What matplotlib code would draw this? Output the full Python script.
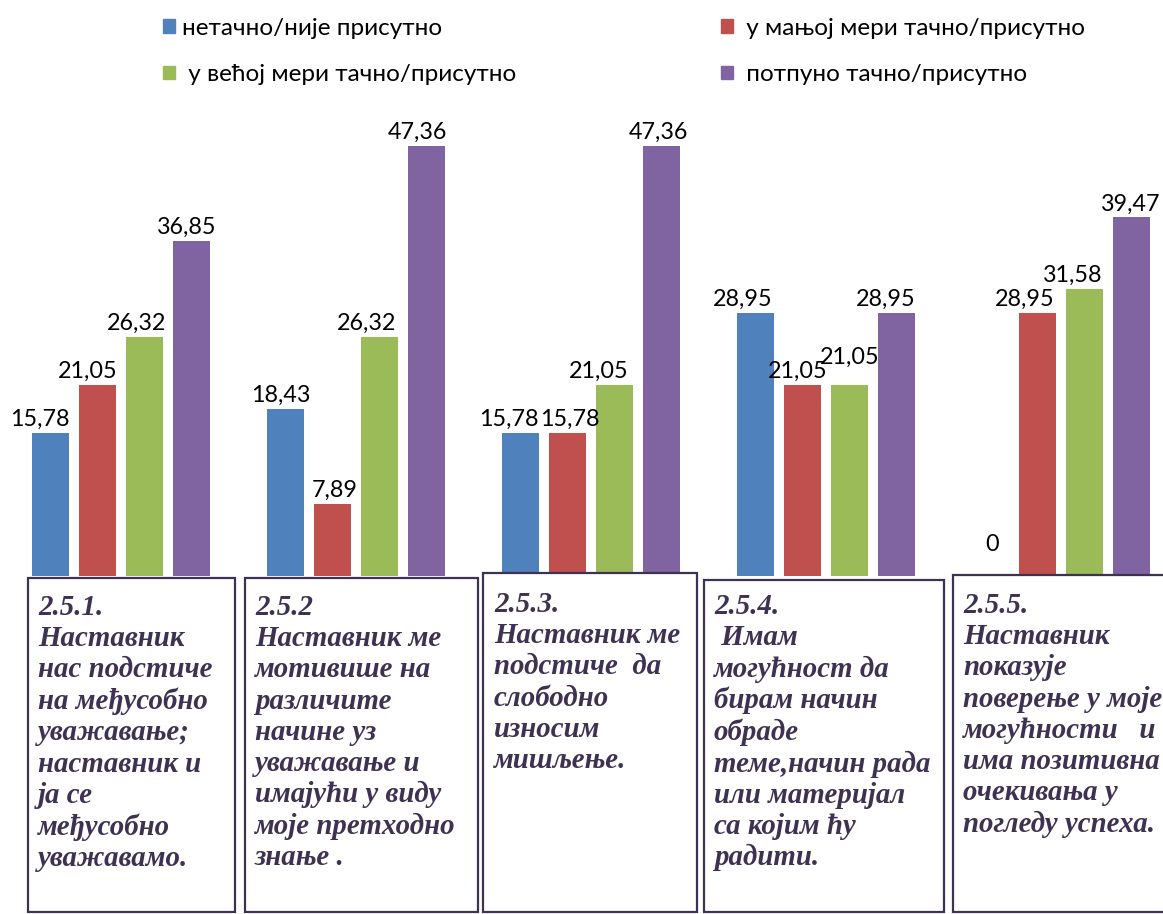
import matplotlib.pyplot as plt
from matplotlib.patches import Rectangle, Patch

# categories (statements) and answer series
groups = ["2.5.1.", "2.5.2", "2.5.3.", "2.5.4.", "2.5.5."]
series_names = ["нетачно/није присутно", " у мањој мери тачно/присутно",
                " у већој мери тачно/присутно", " потпуно тачно/присутно"]
netacno = [15.78, 18.43, 15.78, 28.95, 0]
manjoj = [21.05, 7.89, 15.78, 21.05, 28.95]
vecoj = [26.32, 26.32, 21.05, 21.05, 31.58]
potpuno = [36.85, 47.36, 47.36, 28.95, 39.47]
colors = ["#4F81BD", "#C0504D", "#9BBB59", "#8064A2"]

box_texts = [
    "2.5.1.\nНаставник\nнас подстиче\nна међусобно\nуважавање;\nнаставник и\nја се\nмеђусобно\nуважавамо.",
    "2.5.2\nНаставник ме\nмотивише на\nразличите\nначине уз\nуважавање и\nимајући у виду\nмоје претходно\nзнање .",
    "2.5.3.\nНаставник ме\nподстиче  да\nслободно\nизносим\nмишљење.",
    "2.5.4.\n Имам\nмогућност да\nбирам начин\nобраде\nтеме,начин рада\nили материјал\nса којим ћу\nрадити.",
    "2.5.5.\nНаставник\nпоказује\nповерење у моје\nмогућности   и\nима позитивна\nочекивања у\nпогледу успеха.",
]

# nudges (pixels) for the value labels so neighbours don't collide
label_dx = [[-11, -5, -12, -13, 2],
            [-10, 2, 2, -5, -13],
            [-8, -13, -16, 0, -12],
            [-5, -9, -3, -11, -1]]
label_dy = {(2, 3): 14}

W, H = 1163, 914
fig = plt.figure(figsize=(W / 100, H / 100), dpi=100)

# bar area: baseline sits just under the top of the text boxes
ax = fig.add_axes([0, 1 - 576 / H, 1, (576 - 100) / H])
ax.set_xlim(-0.515, 4.434)
ax.set_ylim(0, 52.4)
ax.axis("off")

all_series = [netacno, manjoj, vecoj, potpuno]
for j, vals in enumerate(all_series):
    xs = [i + (j - 1.5) * 0.2 for i in range(len(groups))]
    ax.bar(xs, vals, width=0.1574, color=colors[j])
    for i, (x, v) in enumerate(zip(xs, vals)):
        lab = f"{v:.2f}".replace(".", ",") if v else "0"
        dy = (21 if v == 0 else 3) + label_dy.get((j, i), 0)
        ax.annotate(lab, (x, v), xytext=(label_dx[j][i], dy),
                    textcoords="offset pixels", ha="center", va="bottom",
                    fontsize=16.8, family="Lato")

# legend in two columns at the top, filled row by row
order = [0, 2, 1, 3]
handles = [Patch(color=colors[i]) for i in order]
fig.legend(handles, [series_names[i] for i in order], ncol=2, loc="upper left",
           bbox_to_anchor=(141 / W, 1 + 4 / H), frameon=False,
           prop={"family": "Lato", "size": 17.5}, handlelength=0.5,
           handleheight=0.5, handletextpad=0.3, columnspacing=8.4,
           labelspacing=1.04)

# statement boxes under the bars
boxes = [(28, 578, 235), (245, 578, 478), (483, 573, 697), (704, 580, 944), (953, 575, 1175)]
text_pos = [(38, 594), (255, 594), (494, 591), (714, 593), (963, 592)]
ink = "#3F3151"
for k, (x0, y0, x1) in enumerate(boxes):
    fig.add_artist(Rectangle((x0 / W, 1 - 912 / H), (x1 - x0) / W, (912 - y0) / H,
                             transform=fig.transFigure, fill=True, facecolor="white",
                             edgecolor=ink, lw=1.6))
    tx, ty = text_pos[k]
    fig.text(tx / W, 1 - ty / H, box_texts[k], ha="left", va="top",
             fontsize=20.8, family="Liberation Serif", style="italic",
             weight="bold", color=ink, linespacing=1.2)

fig.savefig("out.png", dpi=100)
